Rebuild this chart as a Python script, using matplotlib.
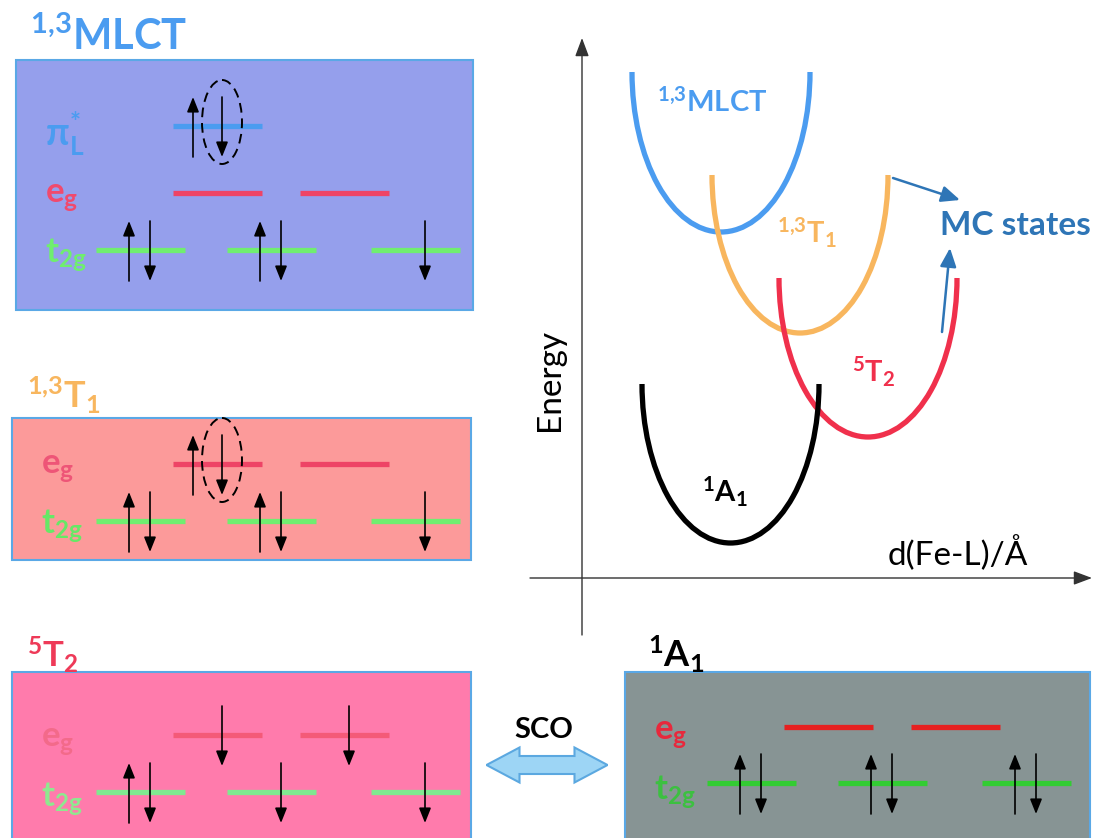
import numpy as np
import matplotlib.pyplot as plt
import matplotlib.patches as mpatches

plt.rcParams['font.family'] = ['Lato', 'DejaVu Sans']
plt.rcParams['mathtext.fontset'] = 'custom'
plt.rcParams['mathtext.rm'] = 'Lato'
plt.rcParams['mathtext.it'] = 'Lato:italic'
plt.rcParams['mathtext.bf'] = 'Lato:bold'

#  Potential energy wells (schematic, arbitrary units).
well_labels = [r'$\mathbf{^{1{,}3}MLCT}$', r'$\mathbf{^{1{,}3}T_1}$',
               r'$\mathbf{^{5}T_2}$', r'$\mathbf{^{1}A_1}$']
well_req = [2.78, 4.36, 5.72, 2.97]
well_emin = [6.92, 4.9, 2.82, 0.7]
well_halfwidth = [1.78, 1.76, 1.78, 1.77]
well_depth = [3.2, 3.16, 3.18, 3.18]
well_colors = ['#4b9cf0', '#f8b65e', '#f0304c', 'black']

#  Electron configurations: 'ud' pair, 'd' single down, 'ud*' pair with
#  the excited (circled) electron.
mlct_pi = ['ud*']
mlct_eg = ['', '']
mlct_t2g = ['ud', 'ud', 'd']
t1_eg = ['ud*', '']
t1_t2g = ['ud', 'ud', 'd']
t2_eg = ['d', 'd']
t2_t2g = ['ud', 'd', 'd']
a1_eg = ['', '']
a1_t2g = ['ud', 'ud', 'ud']

level_x = {'pi': [161], 'eg': [161, 288], 't2g': [84, 215, 359]}
level_len = 89


def spin(ax, x, y, up):
    if up:
        tail, head = (x, y + 31), (x, y - 29)
    else:
        tail, head = (x, y - 29), (x, y + 31)
    ax.annotate('', xy=head, xytext=tail,
                arrowprops=dict(arrowstyle='-|>,head_length=0.75,head_width=0.3',
                                mutation_scale=12, lw=1.2, color='black',
                                shrinkA=0, shrinkB=0))


def orbital(ax, xl, y, occ, color, kind):
    ax.plot([xl, xl + level_len], [y, y], color=color, lw=3.8,
            solid_capstyle='butt', zorder=2)
    if occ == 'ud':
        spin(ax, xl + 33, y, True)
        spin(ax, xl + 54, y, False)
    elif occ == 'd':
        spin(ax, xl + (49 if kind == 'eg' else 54), y, False)
    elif occ == 'ud*':
        spin(ax, xl + 20, y, True)
        spin(ax, xl + 49, y, False)
        ax.add_patch(mpatches.Ellipse((xl + 49, y - 4), 40, 84, fill=False,
                                      ec='black', lw=1.4, ls=(0, (5, 3)),
                                      zorder=3))


def panel(ax, left, top, right, bottom, fill, origin, rows):
    ax.add_patch(mpatches.Rectangle((left, top), right - left, bottom - top,
                                    fc=fill, ec='#5aa8e6', lw=1.5, zorder=1))
    for kind, dy, occs, lcol, label, labcol, labdy, fs in rows:
        y = top + dy
        for xo, occ in zip(level_x[kind], occs):
            orbital(ax, origin + xo, y, occ, lcol, kind)
        ax.text(left + 29, y + labdy, label, color=labcol, fontsize=fs,
                va='baseline', ha='left')


fig = plt.figure(figsize=(10.94, 8.38), dpi=100)
ax = fig.add_axes([0, 0, 1, 1])
ax.set_xlim(0, 1094)
ax.set_ylim(838, 0)
ax.axis('off')

eg_lab = r'$\mathbf{e_g}$'
t2g_lab = r'$\mathbf{t_{2g}}$'
pi_lab = r'$\mathbf{\pi^{*}_{L}}$'

#  1,3MLCT
panel(ax, 16, 60, 473, 310, '#959fec', 12, [
    ('pi', 66, mlct_pi, '#4b9cf0', pi_lab, '#4b9cf0', 20, 27),
    ('eg', 133, mlct_eg, '#ee4466', eg_lab, '#f04a6e', 10, 25),
    ('t2g', 190, mlct_t2g, '#70ee70', t2g_lab, '#6fee6f', 13, 25)])
ax.text(30, 50, r'$\mathbf{^{1{,}3}MLCT}$', color='#4b9cf0', fontsize=30,
        va='baseline')

#  1,3T1
panel(ax, 12, 418, 471, 560, '#fc9a9a', 12, [
    ('eg', 46, t1_eg, '#ee4466', eg_lab, '#ee5577', 10, 25),
    ('t2g', 103, t1_t2g, '#70ee70', t2g_lab, '#66e866', 13, 25)])
ax.text(27, 408, r'$\mathbf{^{1{,}3}T_1}$', color='#f8b65e', fontsize=26,
        va='baseline')

#  5T2
panel(ax, 12, 672, 471, 845, '#ff7bac', 12, [
    ('eg', 63, t2_eg, '#f45a78', eg_lab, '#f36a8a', 12, 25),
    ('t2g', 120, t2_t2g, '#80e890', t2g_lab, '#8fe88f', 15, 25)])
ax.text(27, 667, r'$\mathbf{^{5}T_2}$', color='#ee3a58', fontsize=25,
        va='baseline')

#  1A1
panel(ax, 625, 672, 1090, 845, '#879494', 623, [
    ('eg', 55, a1_eg, '#e62020', eg_lab, '#e8283c', 13, 25),
    ('t2g', 111, a1_t2g, '#33cc33', t2g_lab, '#3cc040', 17, 25)])
ax.text(648, 667, r'$\mathbf{^{1}A_1}$', color='black', fontsize=26,
        va='baseline')

#  SCO double arrow
cx, cy, L, H, sh, hl = 547, 765, 121, 35, 18, 33
pts = [(cx - L / 2, cy), (cx - L / 2 + hl, cy - H / 2),
       (cx - L / 2 + hl, cy - sh / 2), (cx + L / 2 - hl, cy - sh / 2),
       (cx + L / 2 - hl, cy - H / 2), (cx + L / 2, cy),
       (cx + L / 2 - hl, cy + H / 2), (cx + L / 2 - hl, cy + sh / 2),
       (cx - L / 2 + hl, cy + sh / 2), (cx - L / 2 + hl, cy + H / 2)]
ax.add_patch(mpatches.Polygon(pts, closed=True, fc='#9dd5f5', ec='#5ba8e0',
                              lw=1.5))
ax.text(544, 730, 'SCO', fontsize=21, fontweight='bold', ha='center',
        va='center')

#  Potential energy curves
ax2 = fig.add_axes([530 / 1094, 1 - 640 / 838, 564 / 1094, 610 / 838])
ax2.set_xlim(-1.04, 10.24)
ax2.set_ylim(-1.24, 10.96)
ax2.axis('off')

axis_arrow = dict(arrowstyle='-|>,head_length=0.8,head_width=0.3',
                  mutation_scale=14, lw=1.0, color='#333333',
                  shrinkA=0, shrinkB=0)
ax2.annotate('', xy=(10.2, 0), xytext=(-1.04, 0), arrowprops=axis_arrow)
ax2.annotate('', xy=(0, 10.8), xytext=(0, -1.14), arrowprops=axis_arrow)

for r0, e0, hw, dep, col in zip(well_req, well_emin, well_halfwidth,
                                well_depth, well_colors):
    ax2.add_patch(mpatches.Arc((r0, e0 + dep), 2 * hw, 2 * dep, theta1=180,
                               theta2=360, color=col, lw=3.8))

ax2.text(1.5, 9.32, well_labels[0], color=well_colors[0], fontsize=21,
         va='baseline')
ax2.text(3.9, 6.7, well_labels[1], color=well_colors[1], fontsize=21,
         va='baseline')
ax2.text(5.4, 3.92, well_labels[2], color=well_colors[2], fontsize=21,
         va='baseline')
ax2.text(2.4, 1.52, well_labels[3], color='black', fontsize=21,
         va='baseline')

mc = '#2e75b6'
ax2.text(7.16, 7.06, 'MC states', color=mc, fontsize=24, fontweight='bold',
         va='center')
mc_arrow = dict(arrowstyle='-|>,head_length=0.8,head_width=0.35',
                mutation_scale=14, lw=1.8, color=mc, shrinkA=0, shrinkB=0)
ax2.annotate('', xy=(7.56, 7.56), xytext=(6.22, 8.0), arrowprops=mc_arrow)
ax2.annotate('', xy=(7.36, 6.6), xytext=(7.2, 4.92), arrowprops=mc_arrow)

ax2.text(-0.64, 3.96, 'Energy', fontsize=24, rotation=90, ha='center',
         va='center')
ax2.text(6.12, 0.26, 'd(Fe-L)/Å', fontsize=24, va='baseline')

fig.savefig('out.png', dpi=100)
